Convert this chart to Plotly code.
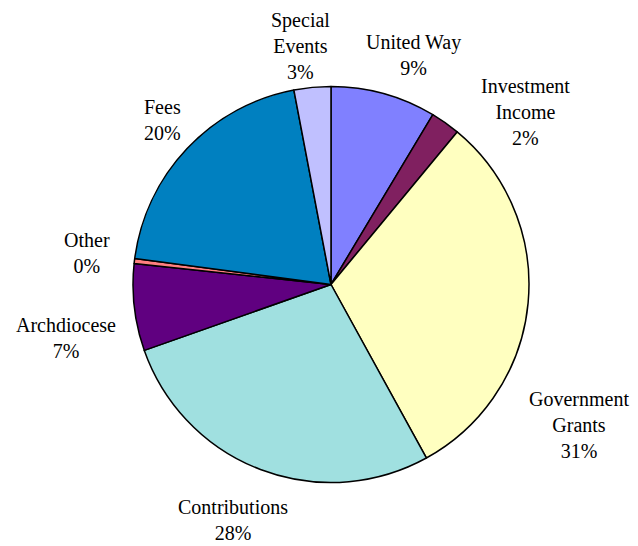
import plotly.graph_objects as go

labels = ["United Way", "Investment<br>Income", "Government<br>Grants", "Contributions",
          "Archdiocese", "Other", "Fees", "Special<br>Events"]
values = [8.6, 2.4, 31.0, 27.6, 7.1, 0.4, 19.9, 3.0]
colors = ["#8080FF", "#802060", "#FFFFC0", "#A0E0E0", "#600080", "#FF8080", "#0080C0", "#C0C0FF"]

# label anchor positions (paper fractions), Excel-style placement
label_x = [0.6348, 0.8119, 0.8950, 0.3527, 0.0909, 0.1238, 0.2429, 0.4577]
label_y = [0.9139, 0.8095, 0.2363, 0.0623, 0.3956, 0.5513, 0.7949, 0.9295]

fig = go.Figure(go.Pie(
    labels=labels,
    values=values,
    sort=False,
    direction="clockwise",
    rotation=0,
    marker=dict(colors=colors, line=dict(color="black", width=1.5)),
    textinfo="none",
    domain=dict(x=[0.1959, 0.8166], y=[0.1310, 0.8562]),
    showlegend=False,
    hoverinfo="label+percent",
))

total = sum(values)
for lab, val, x, y in zip(labels, values, label_x, label_y):
    fig.add_annotation(
        x=x, y=y, xref="paper", yref="paper",
        text=f"{lab}<br>{round(val / total * 100)}%",
        showarrow=False, xanchor="center", yanchor="middle", align="center",
        borderpad=0,
        font=dict(family="Liberation Serif", size=20, color="black"),
    )

fig.update_layout(
    width=638, height=546,
    margin=dict(l=0, r=0, t=0, b=0),
    paper_bgcolor="white",
    plot_bgcolor="white",
    font=dict(family="Liberation Serif", size=20, color="black"),
)

fig.write_html("out.html")
